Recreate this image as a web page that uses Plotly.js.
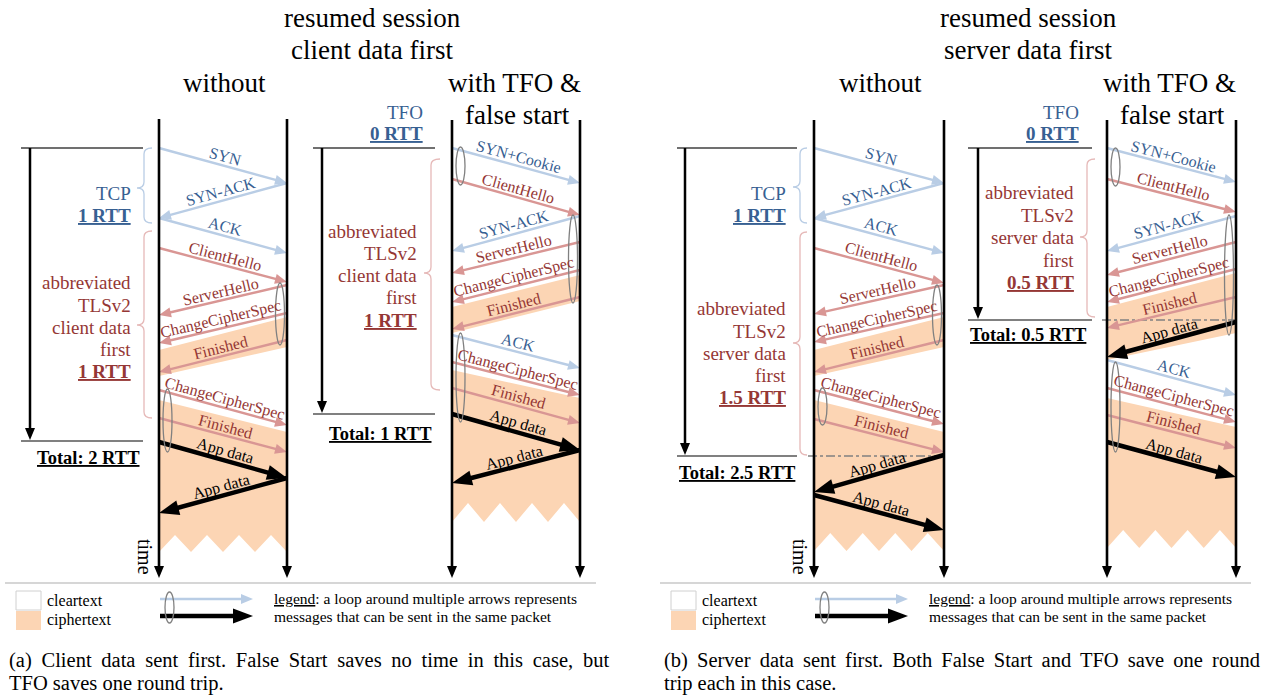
<!DOCTYPE html>
<html>
<head>
<meta charset="utf-8">
<script src="https://cdn.plot.ly/plotly-3.0.1.min.js"></script>
<style>html,body{margin:0;padding:0;background:#fff;}#chart{width:1265px;height:696px;}</style>
</head>
<body>
<div id="chart"></div>
<script>
// ================= DATA =================
// y values are time positions on the (downward) time axis
// (a) without
const msgA1  = ['SYN','SYN-ACK','ACK','ClientHello','ServerHello','ChangeCipherSpec','Finished','ChangeCipherSpec','Finished','App data','App data'];
const dirA1  = ['c','s','c','c','s','s','s','c','c','c','s'];
const kindA1 = ['tcp','tcp','tcp','tls','tls','tls','tls','tls','tls','app','app'];
const sentA1 = [148,183,218,248,285,313,340,390,418,442,478];
const recvA1 = [183,218,253,282,315,343,372,425,452,478,513];
// (a) with TFO & false start
const msgA2  = ['SYN+Cookie','ClientHello','SYN-ACK','ServerHello','ChangeCipherSpec','Finished','ACK','ChangeCipherSpec','Finished','App data','App data'];
const dirA2  = ['c','c','s','s','s','s','c','c','c','c','s'];
const kindA2 = ['tcp','tls','tcp','tls','tls','tls','tcp','tls','tls','app','app'];
const sentA2 = [148,179,216,242,270,297,335,362,388,414,450];
const recvA2 = [183,215,251,273,302,329,368,395,423,450,483];
// (b) without
const msgB1  = ['SYN','SYN-ACK','ACK','ClientHello','ServerHello','ChangeCipherSpec','Finished','ChangeCipherSpec','Finished','App data','App data'];
const dirB1  = ['c','s','c','c','s','s','s','c','c','s','c'];
const kindB1 = ['tcp','tcp','tcp','tls','tls','tls','tls','tls','tls','app','app'];
const sentB1 = [148,183,218,248,285,313,340,390,419,455,495];
const recvB1 = [183,218,253,283,314,342,372,424,452,492,530];
// (b) with TFO & false start
const msgB2  = ['SYN+Cookie','ClientHello','SYN-ACK','ServerHello','ChangeCipherSpec','Finished','App data','ACK','ChangeCipherSpec','Finished','App data'];
const dirB2  = ['c','c','s','s','s','s','s','c','c','c','c'];
const kindB2 = ['tcp','tls','tcp','tls','tls','tls','app','tcp','tls','tls','app'];
const sentB2 = [148,179,216,242,269,297,322,360,388,415,442];
const recvB2 = [182,212,251,275,302,328,357,395,422,448,477];

// packet loops: side, start time, end time
const loopSideA1 = ['s','c'];         const loopFromA1 = [283,389];     const loopToA1 = [345,452];
const loopSideA2 = ['c','s','c'];     const loopFromA2 = [147,215,333]; const loopToA2 = [185,303,422];
const loopSideB1 = ['s','c'];         const loopFromB1 = [285,388];     const loopToB1 = [345,425];
const loopSideB2 = ['c','s','c'];     const loopFromB2 = [148,215,362]; const loopToB2 = [186,335,452];

// ciphertext regions: first band [client start, server start, client end, server end], second band start [client, server]
const cipher1A1 = [350,317,376,347]; const cipher2A1 = [400,432];
const cipher1A2 = [307,275,333,301]; const cipher2A2 = [370,398];
const cipher1B1 = [350,317,376,347]; const cipher2B1 = [400,432];
const cipher1B2 = [307,273,360,333]; const cipher2B2 = [398,427];

// phase labels
const phase1A1 = ['TCP','1 RTT'];
const phase2A1 = ['abbreviated','TLSv2','client data','first','1 RTT'];
const phase1A2 = ['TFO','0 RTT'];
const phase2A2 = ['abbreviated','TLSv2','client data','first','1 RTT'];
const phase1B1 = ['TCP','1 RTT'];
const phase2B1 = ['abbreviated','TLSv2','server data','first','1.5 RTT'];
const phase1B2 = ['TFO','0 RTT'];
const phase2B2 = ['abbreviated','TLSv2','server data','first','0.5 RTT'];
const totalLabels = ['Total: 2 RTT','Total: 1 RTT','Total: 2.5 RTT','Total: 0.5 RTT'];
const totalEnd = [441, 414, 456, 320];   // time at which the data exchange starts
const phaseStart = 148;

const titlesA = ['resumed session','client data first'];
const titlesB = ['resumed session','server data first'];
const colTitles = ['without','with TFO &','false start'];
const legendTexts = ['cleartext','ciphertext','<u>legend</u>: a loop around multiple arrows represents','messages that can be sent in the same packet'];
const captionA = ['(a) Client data sent first. False Start saves no time in this case, but','TFO saves one round trip.'];
const captionB = ['(b) Server data sent first. Both False Start and TFO save one round','trip each in this case.'];

// ================= STYLE / LAYOUT =================
const FONT = '"Liberation Serif", "Times New Roman", Times, serif';
const C = {
  tcp: {line:'#b9cde5', text:'#376092', w:2.4, L:12, W:5},
  tls: {line:'#d99694', text:'#953735', w:2.4, L:12, W:5},
  app: {line:'#000000', text:'#000000', w:4.5, L:20, W:7.5},
  cipher:'#fcd5b4', loop:'#808080', braceBlue:'#b9cde5', braceRed:'#e6b9b8'
};
const shapes = [], annotations = [];

function poly(pts, fill){
  const p = pts.map((q,i)=>(i?'L':'M')+q[0]+','+q[1]).join(' ')+' Z';
  return {type:'path', xref:'x', yref:'y', path:p, fillcolor:fill, line:{width:0}, layer:'above'};
}
function arrow(x0,y0,x1,y1,color,width,L,W,dash){
  const dx=x1-x0, dy=y1-y0, len=Math.hypot(dx,dy), ux=dx/len, uy=dy/len;
  const bx=x1-ux*L, by=y1-uy*L;
  shapes.push({type:'line', xref:'x', yref:'y', x0:x0, y0:y0, x1:bx+ux*2, y1:by+uy*2, line:{color:color,width:width}});
  const px=-uy, py=ux;
  shapes.push({type:'path', xref:'x', yref:'y',
    path:'M'+x1+','+y1+' L'+(bx+px*W)+','+(by+py*W)+' L'+(bx-px*W)+','+(by-py*W)+' Z',
    fillcolor:color, line:{width:0}});
}
function line(x0,y0,x1,y1,color,width,dash){
  shapes.push({type:'line', xref:'x', yref:'y', x0:x0,y0:y0,x1:x1,y1:y1, line:{color:color,width:width,dash:dash||'solid'}});
}
function text(x,y,t,size,color,anchor,extra){
  const a = {x:x, y:y, xref:'x', yref:'y', text:t, showarrow:false,
    font:{family:FONT, size:size, color:color}, xanchor:anchor||'center', yanchor:'middle'};
  Object.assign(a, extra||{});
  annotations.push(a);
}
function msgLabel(x0,y0,x1,y1,t,color,size,off){
  let ax=x0, ay=y0, bx=x1, by=y1;
  if(bx<ax){ [ax,bx]=[bx,ax]; [ay,by]=[by,ay]; }
  const vx=bx-ax, vy=by-ay, len=Math.hypot(vx,vy);
  const nx=vy/len, ny=-vx/len;
  const ang=Math.atan2(vy,vx)*180/Math.PI;
  text((ax+bx)/2+nx*off, (ay+by)/2+ny*off, t, size, color, 'center', {textangle:ang});
}
function brace(xr,xm,xl,top,tip,bot,color){
  const r=6;
  const p='M'+xr+','+top+' Q'+xm+','+top+' '+xm+','+(top+r)+' L'+xm+','+(tip-r)+
    ' Q'+xm+','+tip+' '+xl+','+tip+' Q'+xm+','+tip+' '+xm+','+(tip+r)+
    ' L'+xm+','+(bot-r)+' Q'+xm+','+bot+' '+xr+','+bot;
  shapes.push({type:'path', xref:'x', yref:'y', path:p, line:{color:color,width:1.3}});
}

// geometry of the four diagrams
const G = [
  {cx:159, sx:287, top:119, bot:578, zig:[535,552], time:true,
   msg:msgA1, dir:dirA1, kind:kindA1, sent:sentA1, recv:recvA1,
   ls:loopSideA1, lf:loopFromA1, lt:loopToA1, c1:cipher1A1, c2:cipher2A1,
   p1:phase1A1, p1x:133, p1y:[193,215], b1:[152,144,137,148,188,223],
   p2:phase2A1, p2x:133, p2y:[282,305,327,349,371], b2:[152,144,137,231,325,418],
   tx:30, tl:[21,143], tlab:[88,458], dash:null},
  {cx:452, sx:580, top:120, bot:578, zig:[503,522], time:false,
   msg:msgA2, dir:dirA2, kind:kindA2, sent:sentA2, recv:recvA2,
   ls:loopSideA2, lf:loopFromA2, lt:loopToA2, c1:cipher1A2, c2:cipher2A2,
   p1:phase1A2, p1x:425, p1y:[112,133], b1:null,
   p2:phase2A2, p2x:419, p2y:[231,253,275,297,320], b2:[440,431,424,159,273,390],
   tx:322, tl:[313,435], tlab:[380,434], dash:null},
  {cx:814, sx:944, top:120, bot:578, zig:[533,551], time:true,
   msg:msgB1, dir:dirB1, kind:kindB1, sent:sentB1, recv:recvB1,
   ls:loopSideB1, lf:loopFromB1, lt:loopToB1, c1:cipher1B1, c2:cipher2B1,
   p1:phase1B1, p1x:788, p1y:[193,215], b1:[807,800,793,148,187,223],
   p2:phase2B1, p2x:788, p2y:[308,331,353,375,397], b2:[807,800,793,232,343,455],
   tx:685, tl:[677,797], tlab:[737,473], dash:[808,944]},
  {cx:1107, sx:1236, top:120, bot:578, zig:[530,548], time:false,
   msg:msgB2, dir:dirB2, kind:kindB2, sent:sentB2, recv:recvB2,
   ls:loopSideB2, lf:loopFromB2, lt:loopToB2, c1:cipher1B2, c2:cipher2B2,
   p1:phase1B2, p1x:1081, p1y:[112,133], b1:null,
   p2:phase2B2, p2x:1076, p2y:[192,215,237,260,282], b2:[1095,1087,1080,159,237,317],
   tx:978, tl:[968,1092], tlab:[1028,335], dash:[1102,1236]}
];

G.forEach((g,k)=>{
  // ciphertext regions
  shapes.push(poly([[g.cx,g.c1[0]],[g.sx,g.c1[1]],[g.sx,g.c1[3]],[g.cx,g.c1[2]]], C.cipher));
  const pts=[[g.cx,g.c2[0]],[g.sx,g.c2[1]],[g.sx,g.zig[1]]];
  const w=(g.sx-g.cx)/4;
  for(let i=3;i>=0;i--){ pts.push([g.cx+(i+0.5)*w, g.zig[0]]); pts.push([g.cx+i*w, g.zig[1]]); }
  shapes.push(poly(pts, C.cipher));

  // braces and phase labels
  if(g.b1) brace(g.b1[0],g.b1[1],g.b1[2],g.b1[3],g.b1[4],g.b1[5],C.braceBlue);
  brace(g.b2[0],g.b2[1],g.b2[2],g.b2[3],g.b2[4],g.b2[5],C.braceRed);
  g.p1.forEach((t,i)=>{
    const last=i===g.p1.length-1;
    text(g.p1x, g.p1y[i], last?'<b><u>'+t+'</u></b>':t, 19, C.tcp.text, 'right');
  });
  g.p2.forEach((t,i)=>{
    const last=i===g.p2.length-1;
    text(g.p2x, g.p2y[i], last?'<b><u>'+t+'</u></b>':t, 19, C.tls.text, 'right');
  });

  // total duration arrow
  line(g.tl[0], phaseStart, g.tl[1], phaseStart, '#404040', 1.5);
  line(g.tl[0], totalEnd[k], g.tl[1], totalEnd[k], '#808080', 2);
  arrow(g.tx, phaseStart, g.tx, totalEnd[k]-1, '#000', 2.5, 12, 5);
  if(g.dash) line(g.dash[0], totalEnd[k], g.dash[1], totalEnd[k], '#808080', 1.5, 'dashdot');
  text(g.tlab[0], g.tlab[1], '<b><u>'+totalLabels[k]+'</u></b>', 18.5, '#000');

  // messages
  g.msg.forEach((m,i)=>{
    const st=C[g.kind[i]];
    const x0 = g.dir[i]==='c'?g.cx:g.sx, x1 = g.dir[i]==='c'?g.sx:g.cx;
    arrow(x0, g.sent[i], x1, g.recv[i], st.line, st.w, st.L, st.W);
    msgLabel(x0, g.sent[i], x1, g.recv[i], m, st.text, 16, 9);
  });

  // lifelines
  arrow(g.cx, g.top, g.cx, g.bot, '#000', 2.6, 12, 5);
  arrow(g.sx, g.top, g.sx, g.bot, '#000', 2.6, 12, 5);

  // loops
  g.ls.forEach((s,i)=>{
    const xc = s==='c'? g.cx+8.5 : g.sx-7;
    shapes.push({type:'circle', xref:'x', yref:'y', x0:xc-4.5, x1:xc+4.5, y0:g.lf[i], y1:g.lt[i],
      line:{color:C.loop,width:1.3}, fillcolor:'rgba(0,0,0,0)'});
  });

  if(g.time) text(g.cx-14, 557, 'time', 20, '#000', 'center', {textangle:90});
});

// titles
[[titlesA, 372, 224, 514],[titlesB, 1028, 880, 1169]].forEach(t=>{
  text(t[1], 18, t[0][0], 27, '#000');
  text(t[1], 50, t[0][1], 27, '#000');
  text(t[2], 83, colTitles[0], 27, '#000');
  text(t[3], 83, colTitles[1], 27, '#000');
  text(t[3]+3, 115, colTitles[2], 27, '#000');
});

// legends and captions
[[0, captionA, 4.6],[655, captionB, 4.0]].forEach(L=>{
  const o=L[0];
  line(5+o, 583, 596+o, 583, '#c8c8c8', 1.5);
  shapes.push({type:'rect', xref:'x', yref:'y', x0:16+o, x1:41+o, y0:591, y1:610, fillcolor:'#ffffff', line:{color:'#d0d0d0',width:1}});
  shapes.push({type:'rect', xref:'x', yref:'y', x0:16+o, x1:41+o, y0:611, y1:630, fillcolor:C.cipher, line:{width:0}});
  text(45+o, 600, legendTexts[0], 16, '#000', 'left');
  text(45+o, 620, legendTexts[1], 16, '#000', 'left');
  arrow(160+o, 599, 253+o, 599, C.tcp.line, 2.4, 12, 5);
  arrow(160+o, 616, 253+o, 616, '#000', 4.5, 20, 7.5);
  shapes.push({type:'circle', xref:'x', yref:'y', x0:165+o, x1:174+o, y0:592, y1:623, line:{color:C.loop,width:1.3}});
  text(272+o, 598, legendTexts[2], 15.5, '#000', 'left');
  text(272+o, 616, legendTexts[3], 15.5, '#000', 'left');
  text(7+o, 660, '<span style="word-spacing:'+L[2]+'px">'+L[1][0]+'</span>', 20.5, '#000', 'left');
  text(7+o, 683, L[1][1], 20.5, '#000', 'left');
});

const layout = {
  width:1265, height:696, margin:{l:0,r:0,t:0,b:0,pad:0},
  paper_bgcolor:'#fff', plot_bgcolor:'#fff', showlegend:false,
  xaxis:{range:[0,1265], visible:false, fixedrange:true},
  yaxis:{range:[696,0], visible:false, fixedrange:true},
  shapes:shapes, annotations:annotations
};
Plotly.newPlot('chart', [{x:[], y:[], type:'scatter', mode:'markers', hoverinfo:'skip'}], layout, {staticPlot:true, displayModeBar:false});
</script>
</body>
</html>
